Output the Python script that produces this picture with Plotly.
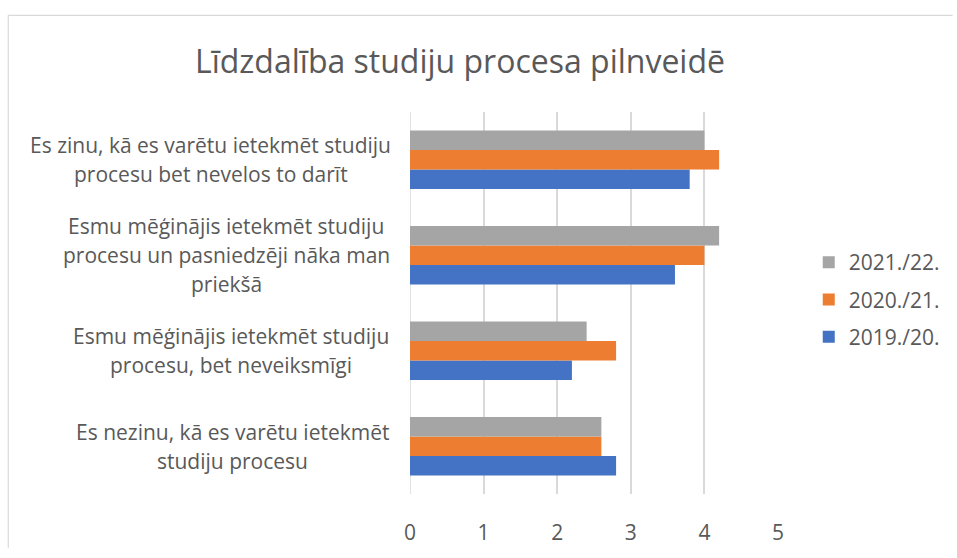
import plotly.graph_objects as go

# categories listed bottom -> top (plotly puts the first category at the bottom)
categories = [
    "Es nezinu, kā es varētu ietekmēt studiju procesu",
    "Esmu mēģinājis ietekmēt studiju procesu, bet neveiksmīgi",
    "Esmu mēģinājis ietekmēt studiju procesu un pasniedzēji nāka man priekšā",
    "Es zinu, kā es varētu ietekmēt studiju procesu bet nevelos to darīt",
]
# how each category label is broken into lines
label_lines = [
    ["Es nezinu, kā es varētu ietekmēt", "studiju procesu"],
    ["Esmu mēģinājis ietekmēt studiju", "procesu, bet neveiksmīgi"],
    ["Esmu mēģinājis ietekmēt studiju", "procesu un pasniedzēji nāka man", "priekšā"],
    ["Es zinu, kā es varētu ietekmēt studiju", "procesu bet nevelos to darīt"],
]

series_names = ["2019./20.", "2020./21.", "2021./22."]
vals_2019 = [2.8, 2.2, 3.6, 3.8]
vals_2020 = [2.6, 2.8, 4.0, 4.2]
vals_2021 = [2.6, 2.4, 4.2, 4.0]
x_ticks = [0, 1, 2, 3, 4, 5]

colors = ["#4472C4", "#ED7D31", "#A5A5A5"]
TXT = "#595959"
FONT = "Open Sans"

W, H = 957, 558
L, R, T, B = 410, 781, 112, 503   # plot area in pixels


def px_x(px):
    return (px - L) / (R - L)


def px_y(py):
    return (B - py) / (B - T)


fig = go.Figure()
for k, (name, vals, col) in enumerate(zip(series_names, [vals_2019, vals_2020, vals_2021], colors)):
    fig.add_trace(go.Bar(
        y=categories, x=vals, name=name, orientation="h",
        marker=dict(color=col, line=dict(width=0)),
        legendgroup=name, legendrank=len(series_names) - k,  # newest year on top
    ))

# category labels: centred lines, wider line spacing than plotly's default
label_centers = [231, 230, 225, 209]
annotations = []
for cat, lines, cx in zip(categories, label_lines, label_centers):
    n = len(lines)
    for i, line in enumerate(lines):
        annotations.append(dict(
            text=line, xref="paper", yref="y", x=px_x(cx), y=cat,
            xanchor="center", yanchor="middle", showarrow=False,
            yshift=-(i - (n - 1) / 2) * 29,
            font=dict(family=FONT, size=21, color=TXT),
        ))

fig.update_layout(
    width=W, height=H,
    margin=dict(l=L, r=W - R, t=T, b=H - B, pad=0),
    paper_bgcolor="white", plot_bgcolor="white",
    barmode="group", bargap=0.39, bargroupgap=0,
    title=dict(text="Līdzdalība studiju procesa pilnveidē",
               x=460 / W, xanchor="center", xref="container",
               y=1 - 62 / H, yanchor="middle", yref="container",
               font=dict(family=FONT, size=32, color=TXT)),
    xaxis=dict(range=[0, 5], tickvals=x_ticks, showgrid=True,
               gridcolor="#D9D9D9", gridwidth=1.5, zeroline=False,
               showline=False, ticks="", ticklabelstandoff=24,
               tickfont=dict(family=FONT, size=21, color=TXT), fixedrange=True),
    yaxis=dict(showticklabels=False, showgrid=False, zeroline=False,
               showline=False, ticks="", fixedrange=True),
    legend=dict(x=px_x(812), xanchor="left", y=px_y(304), yanchor="middle",
                traceorder="grouped", tracegroupgap=7,
                font=dict(family=FONT, size=21, color=TXT),
                bgcolor="rgba(0,0,0,0)"),
    annotations=annotations,
    shapes=[
        # vertical gridline at zero + outer chart border
        dict(type="line", xref="x", yref="paper", x0=0, x1=0, y0=0, y1=1,
             line=dict(color="#D9D9D9", width=1.5), layer="below"),
        dict(type="line", xref="paper", yref="paper", x0=px_x(5), x1=px_x(5),
             y0=px_y(13), y1=px_y(H), line=dict(color="#D9D9D9", width=1.2)),
        dict(type="line", xref="paper", yref="paper", x0=px_x(5), x1=px_x(W),
             y0=px_y(13), y1=px_y(13), line=dict(color="#D9D9D9", width=1.2)),
    ],
)

fig.write_html("out.html", config={"displayModeBar": False},
               post_script="document.body.style.margin='0';"
                           "document.body.style.overflow='hidden';")
